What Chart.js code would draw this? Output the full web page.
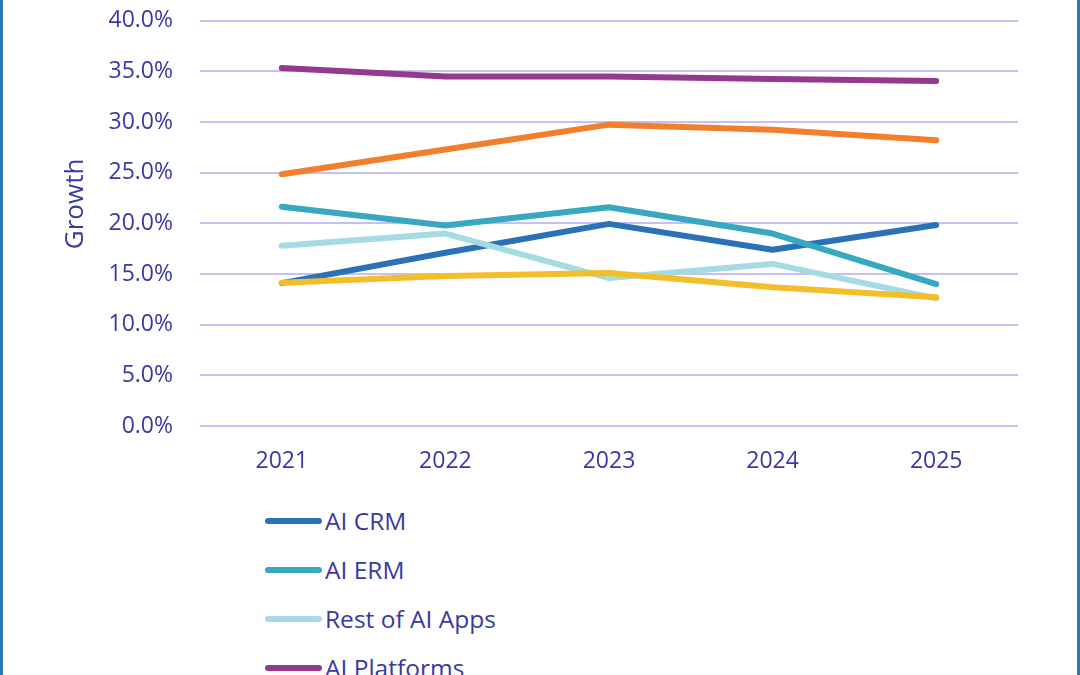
<!DOCTYPE html>
<html>
<head>
<meta charset="utf-8">
<script src="https://cdn.jsdelivr.net/npm/chart.js@4/dist/chart.umd.min.js"></script>
<style>
  html, body { margin: 0; padding: 0; background: #ffffff; overflow: hidden; }
  #frame { position: absolute; left: 0; top: 0; width: 1080px; height: 800px;
           border-left: 3px solid #2e75b6; border-right: 3px solid #2e75b6; box-sizing: border-box; }
  #chart { position: absolute; left: 0; top: -20px; }
  #legend { position: absolute; left: 0; top: 496px; width: 1080px;
            font-family: "Open Sans", sans-serif; font-size: 24.5px; color: #3a38a6; }
  .item { height: 49px; display: flex; align-items: center; }
  .swatch { width: 57px; height: 6px; border-radius: 3px; margin-left: 265px; margin-right: 3px; }
</style>
</head>
<body>
<div id="frame"></div>
<canvas id="chart" width="1080" height="510" style="width:1080px;height:510px"></canvas>
<div id="legend"></div>
<script>
const years = ['2021', '2022', '2023', '2024', '2025'];
const seriesNames = ['AI CRM', 'AI ERM', 'Rest of AI Apps', 'AI Platforms', 'AI System Infrastructure Software', 'AI Application Development & Deployment'];
const aiCRM       = [14.1, 17.1, 19.95, 17.4, 19.85];
const aiERM       = [21.65, 19.8, 21.6, 19.0, 14.0];
const restAIApps  = [17.8, 19.0, 14.6, 16.0, 12.6];
const aiPlatforms = [35.35, 34.5, 34.5, 34.25, 34.05];
const aiInfra     = [24.85, 27.3, 29.75, 29.25, 28.2];
const aiAppDev    = [14.15, 14.8, 15.1, 13.7, 12.7];
const yTicks = [0, 5, 10, 15, 20, 25, 30, 35, 40];
const colors = ['#2a72b8', '#37a8c0', '#a6dbe4', '#943a8e', '#f27f2b', '#f2be2a'];
const allSeries = [aiCRM, aiERM, restAIApps, aiPlatforms, aiInfra, aiAppDev];

const textColor = '#3a38a6';
const datasets = allSeries.map((d, i) => ({
  label: seriesNames[i],
  data: d,
  borderColor: colors[i],
  backgroundColor: colors[i],
  borderWidth: 6,
  pointRadius: 0,
  pointHoverRadius: 0,
  tension: 0,
  borderCapStyle: 'round',
  borderJoinStyle: 'round',
  fill: false,
  order: allSeries.length - i
}));

const chart = new Chart(document.getElementById('chart'), {
  type: 'line',
  data: { labels: years, datasets },
  options: {
    responsive: false,
    animation: false,
    layout: { padding: { top: 7, right: 62, bottom: 0, left: 0 } },
    plugins: { legend: { display: false }, tooltip: { enabled: false } },
    scales: {
      x: {
        offset: true,
        grid: { display: false, drawTicks: false },
        border: { display: false },
        ticks: { color: textColor, padding: 22, font: { family: 'Open Sans', size: 23 } },
        afterFit: s => { s.height = 64; }
      },
      y: {
        min: 0, max: 40,
        afterBuildTicks: s => { s.ticks = yTicks.map(v => ({ value: v })); },
        grid: { color: '#c6c0f0', lineWidth: 2, drawTicks: false },
        border: { display: false },
        ticks: { color: textColor, padding: 27, font: { family: 'Open Sans', size: 23 },
                 callback: v => Number(v).toFixed(1) + '%' },
        title: { display: true, text: '\u2003\u2002Growth', color: textColor,
                 font: { family: 'Open Sans', size: 26 }, padding: { top: 60, bottom: 0 } },
        afterFit: s => { s.width = 200; }
      }
    }
  }
});

const legendEl = document.getElementById('legend');
chart.data.datasets.forEach(ds => {
  const item = document.createElement('div');
  item.className = 'item';
  const sw = document.createElement('span');
  sw.className = 'swatch';
  sw.style.background = ds.borderColor;
  const tx = document.createElement('span');
  tx.textContent = ds.label;
  item.appendChild(sw);
  item.appendChild(tx);
  legendEl.appendChild(item);
});
</script>
</body>
</html>
